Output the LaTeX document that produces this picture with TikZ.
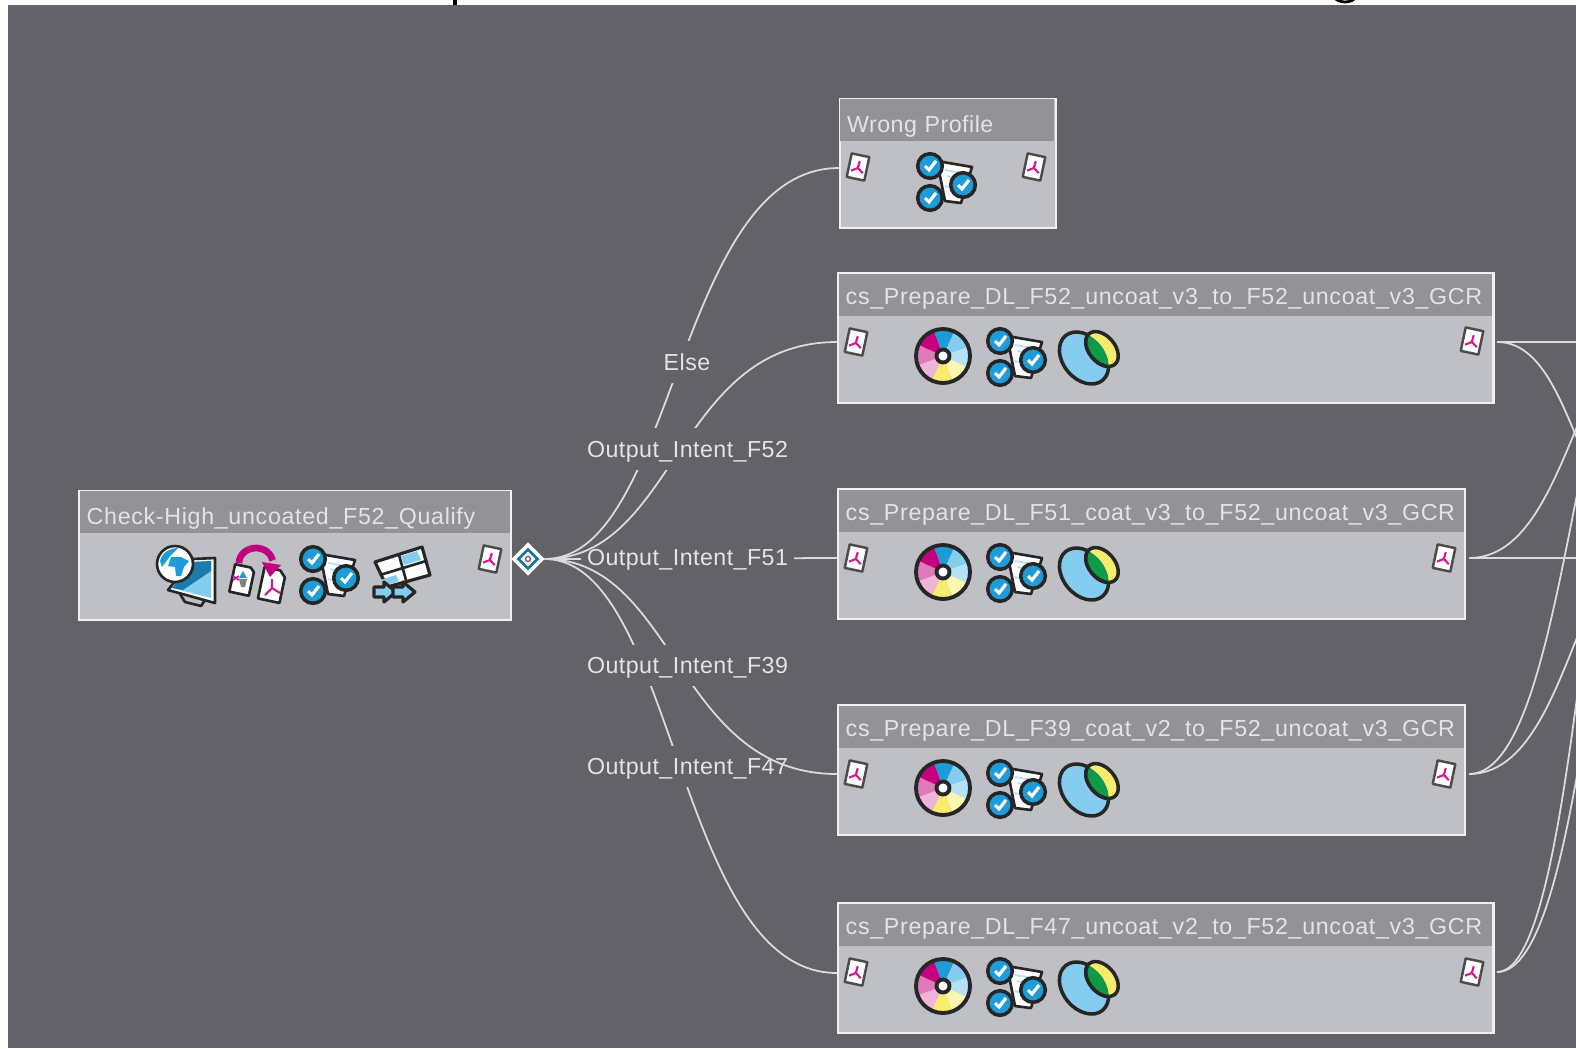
\documentclass[tikz,border=0pt]{standalone}
\usepackage{fontspec}
\setmainfont{Liberation Sans}
\newfontfamily\headfont[LetterSpace=3]{Liberation Sans}
\newfontfamily\wirefont[LetterSpace=2]{Liberation Sans}
\usetikzlibrary{shapes.geometric}
\definecolor{flowbg}{HTML}{636269}
\definecolor{bodygray}{HTML}{BEC0C5}
\definecolor{headgray}{HTML}{929297}
\definecolor{framewhite}{HTML}{F0F0F0}
\definecolor{labelgray}{HTML}{E4E4E4}
\definecolor{wiregray}{HTML}{DCDCDE}
\definecolor{pinkpdf}{HTML}{D6168E}
\definecolor{deepblue}{HTML}{1E9CD8}
\definecolor{paleblue}{HTML}{84CDEE}
\definecolor{ghostblue}{HTML}{B5E1F4}
\definecolor{paleyellow}{HTML}{FBF6B0}
\definecolor{solidyellow}{HTML}{F8EC6C}
\definecolor{palepink}{HTML}{F0B4D8}
\definecolor{midpink}{HTML}{E07ABB}
\definecolor{magentaink}{HTML}{C4007F}
\definecolor{leafgreen}{HTML}{0E9A48}
\tikzset{
	taskbox/.style={draw=framewhite,line width=.6pt,fill=bodygray,anchor=north west,inner sep=0pt,minimum height=1.295cm},
	headbox/.style={fill=headgray,anchor=north west,inner ysep=0pt,inner xsep=.07cm,minimum height=.42cm,text height=.225cm,text depth=.02cm,font=\headfont\fontsize{6.6pt}{7pt}\selectfont,text=labelgray,xshift=.01cm,yshift=-.01cm},
	wirelabel/.style={fill=flowbg,inner ysep=0pt,inner xsep=.06cm,minimum height=.41cm,text height=.18cm,text depth=.02cm,font=\wirefont\fontsize{6.6pt}{7pt}\selectfont,text=labelgray},
	wire/.style={draw=wiregray,line width=.5pt},
	inkline/.style={draw=black!85,line width=.75pt,line join=round},
	pdficon/.pic={
		\begin{scope}[rotate=-12]
			\draw[draw=black!70,line width=.7pt,fill=white,line join=round](-9,-12)--(9,-12)--(9,12)--(-9,12)--cycle;
			\draw[pinkpdf,line width=.6pt](0,1)--(.5,-6)(0,1)--(-6,5)(0,1)--(6,5);
		\end{scope}
	},
	checkicon/.pic={
		\draw[inkline,fill=white](-10,-21)--(25,-15)--(14,21)--(-2,19)--cycle;
		\draw[ghostblue,line width=.5pt](-2,-12)--(15,-9)(0,-6)--(12,-3)(-2,4)--(6,6);
		\foreach \cx/\cy in {-17/-16,16/3,-17/16}{
			\draw[inkline,line width=1pt,fill=deepblue](\cx,\cy)circle(12.3);
			\draw[white,line width=.9pt](\cx-5,\cy)--(\cx-1,\cy+4)--(\cx+6,\cy-5);
		}
	},
	discicon/.pic={
		\foreach \ang/\tint in {-110/deepblue,-65/paleblue,-20/ghostblue,25/paleyellow,70/solidyellow,115/palepink,160/midpink,205/magentaink}{
			\fill[\tint](0,0)--(\ang:27)arc[start angle=\ang,end angle=\ang+45,radius=27]--cycle;
		}
		\draw[inkline,line width=1.1pt](0,0)circle(27);
		\draw[inkline,line width=1.1pt,fill=white](0,0)circle(6.5);
	},
	overlapicon/.pic={
		\draw[inkline,line width=1pt,fill=paleblue](-1,3)ellipse[x radius=29,y radius=21,rotate=-50];
		\draw[inkline,line width=1pt,fill=solidyellow](17,-6)ellipse[x radius=20,y radius=13,rotate=-50];
		\begin{scope}
			\clip(-1,3)ellipse[x radius=29,y radius=21,rotate=-50];
			\draw[inkline,line width=1pt,fill=leafgreen](17,-6)ellipse[x radius=20,y radius=13,rotate=-50];
		\end{scope}
	},
	globeicon/.pic={
		\draw[inkline,fill=white](-7,26)--(18,-5)--(40,-6)--(40,39)--cycle;
		\draw[inkline](5,30)--(10,38)--(26,42)--(30,36);
		\fill[paleblue](-3,24)--(16,-2)--(36,-3)--(36,34)--cycle;
		\fill[deepblue!80!black](-3,24)--(16,-2)--(36,-3)--(36,7)--(8,26)--cycle;
		\draw[inkline,fill=white](0,0)circle(18);
		\fill[deepblue](-15,-3)..controls(-13,-12)and(-4,-16)..(3,-16)--(-4,-9)--(-13,3)--cycle;
		\fill[deepblue](-4,-7)--(6,-7)--(14,-3)--(9,3)--(6,12)--(1,12)--(0,3)--(-7,2)--cycle;
	},
	swapicon/.pic={
		\draw[inkline,fill=white,rotate around={-12:(-15,5)}](-25,-9)--(-9,-9)--(-5,-5)--(-5,19)--(-25,19)--cycle;
		\draw[inkline,fill=white,rotate around={-12:(15,10)}](4,-6)--(20,-6)--(26,0)--(26,26)--(4,26)--cycle;
		\fill[deepblue](-14,-4)--(-10,3)--(-18,3)--cycle;
		\fill[black!50](-18,4)--(-10,4)--(-12,12)--(-16,12)--cycle;
		\draw[pinkpdf,line width=.5pt](-24,5)--(-18,1)(-24,1)--(-18,5);
		\draw[pinkpdf,line width=.6pt](15,13)--(15,4)(15,13)--(8,20)(15,13)--(23,18);
		\draw[magentaink,line width=1.9pt](-18,-12)arc[start angle=180,end angle=350,x radius=17,y radius=15];
		\fill[magentaink](5,-13)--(24,-10)--(13,2)--cycle;
	},
	gridicon/.pic={
		\draw[inkline,line width=.9pt,fill=white](-27,-13)--(20,-28)--(28,0)--(-15,12)--cycle;
		\fill[paleblue](-1,-19)--(15,-24)--(19,-15)--(2,-10)--cycle;
		\fill[paleblue](-22,5)--(-6,0)--(-3,6)--(-14,10)--cycle;
		\draw[inkline](-22,0)--(24,-14)(-3,-20)--(4,5);
		\foreach \ax in {-28,-9}{
			\draw[inkline,line width=.9pt,fill=paleblue](\ax,12)--(\ax+10,12)--(\ax+10,7)--(\ax+22,17)--(\ax+10,27)--(\ax+10,22)--(\ax,22)--cycle;
		}
	}
}
\begin{document}
\begin{tikzpicture}[x=.01cm,y=-.01cm]
	\useasboundingbox(0,0)rectangle(1576,1048);
	\clip(0,0)rectangle(1576,1048);
	\fill[white](0,0)rectangle(1576,1048);
	\fill[black](453,0)rectangle(457,5);
	\draw[black,line width=.8pt](1333,-4)..controls(1338,4)and(1352,4)..(1357,-4);
	\fill[flowbg](8,5)rectangle(1576,1048);

	\foreach \nm/\bx/\by/\bw/\txt in {qualify/78/489.5/4.32/{\raisebox{-.02cm}{Check-High\_uncoated\_F52\_Qualify}},
		wrong/838.5/97.5/2.16/{\raisebox{-.02cm}{\wirefont\fontsize{6.6pt}{7pt}\selectfont Wrong Profile}},
		fivetwo/837/272/6.55/{cs\_Prepare\_DL\_F52\_uncoat\_v3\_to\_F52\_uncoat\_v3\_GCR},
		fiveone/837/488/6.27/{cs\_Prepare\_DL\_F51\_coat\_v3\_to\_F52\_uncoat\_v3\_GCR},
		threenine/837/704/6.27/{cs\_Prepare\_DL\_F39\_coat\_v2\_to\_F52\_uncoat\_v3\_GCR},
		fourseven/837/902/6.55/{cs\_Prepare\_DL\_F47\_uncoat\_v2\_to\_F52\_uncoat\_v3\_GCR}}{
		\node[taskbox,minimum width=\bw cm](\nm)at(\bx,\by){};
		\node[headbox,text width=\bw cm-.16cm](\nm head)at(\nm.north west){\txt};
	}

	\node[diamond,draw=white,line width=.6pt,fill=white,inner sep=0pt,minimum size=.31cm](gate)at(528,559){};
	\node[diamond,draw=deepblue!75!black,line width=.75pt,fill=white,inner sep=0pt,minimum size=.2cm](gatering)at(gate){};
	\node[circle,draw=black!60,line width=.4pt,fill=white,inner sep=0pt,minimum size=.05cm](gatedot)at(gate){};

	\coordinate(wrongin)at(839,168);
	\coordinate(fivetwoin)at(837,342);
	\coordinate(fiveonein)at(837,558);
	\coordinate(threeninein)at(837,774);
	\coordinate(foursevenin)at(837,973);
	\coordinate(fivetwoout)at(1497,342);
	\coordinate(fiveoneout)at(1469,558);
	\coordinate(threenineout)at(1469,774);
	\coordinate(foursevenout)at(1497,972);
	\coordinate(nextstraightup)at(1580,342);
	\coordinate(nextstraightmid)at(1580,558);
	\coordinate(nextdown)at(1655,530);
	\coordinate(nextupa)at(1683,300);
	\coordinate(nextupb)at(1680,240);
	\coordinate(nextupc)at(1683,506);
	\coordinate(nextupd)at(1680,250);
	\coordinate(nextupe)at(1700,320);

	\draw[wire](gate.east)--(fiveonein);
	\node[wirelabel](fiveonelabel)at(687.5,557){Output\_Intent\_F51};
	\draw[wire](gate.east)..controls(676,559)and(676,168)..(wrongin);
	\node[wirelabel](elselabel)at(687,362){Else};
	\draw[wire](gate.east)..controls(676,559)and(676,342)..(fivetwoin);
	\node[wirelabel](fivetwolabel)at(687.5,449){Output\_Intent\_F52};
	\draw[wire](gate.east)..controls(676,559)and(676,973)..(foursevenin);
	\node[wirelabel](foursevenlabel)at(687.5,766){Output\_Intent\_F47};
	\draw[wire](gate.east)..controls(676,559)and(676,774)..(threeninein);
	\node[wirelabel](threeninelabel)at(687.5,665){Output\_Intent\_F39};

	\draw[wire](fivetwoout)--(nextstraightup);
	\draw[wire](fivetwoout)..controls(1576,342)and(1576,530)..(nextdown);
	\draw[wire](fiveoneout)--(nextstraightmid);
	\draw[wire](fiveoneout)..controls(1576,558)and(1576,300)..(nextupa);
	\draw[wire](threenineout)..controls(1574.5,774)and(1574.5,240)..(nextupb);
	\draw[wire](threenineout)..controls(1576,774)and(1576,506)..(nextupc);
	\draw[wire](foursevenout)..controls(1588,972)and(1588,250)..(nextupd);
	\draw[wire](foursevenout)..controls(1598,972)and(1598,320)..(nextupe);

	\foreach \px/\py in {490/559,858/167,1034/167,856/342,1472/341,856/558,1444/558,856/774,1444/774,856/972,1472/972}{
		\pic at(\px,\py){pdficon};
	}
	\foreach \ry in {356,572,788,986}{
		\pic at(943,\ry){discicon};
		\pic at(1017,\ry+1){checkicon};
		\pic at(1085,\ry-1){overlapicon};
	}
	\pic at(947,182){checkicon};
	\pic at(175,564){globeicon};
	\pic at(257,575){swapicon};
	\pic at(330,575){checkicon};
	\pic at(402,575){gridicon};
\end{tikzpicture}
\end{document}
